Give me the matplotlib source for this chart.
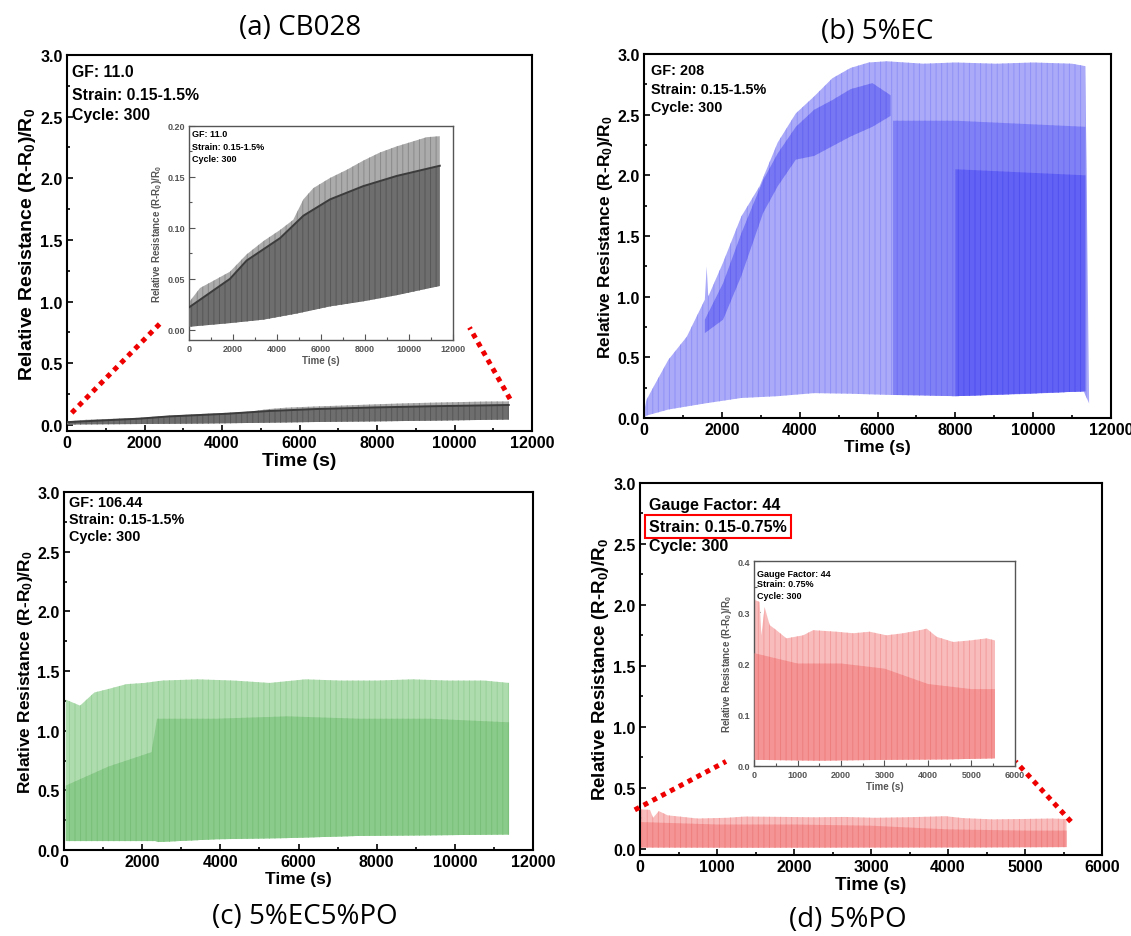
import matplotlib
matplotlib.use('Agg')
import matplotlib.pyplot as plt
from matplotlib.ticker import MultipleLocator, FormatStrFormatter

plt.rcParams['font.family'] = ['Liberation Sans', 'DejaVu Sans']
plt.rcParams['font.weight'] = 'bold'
plt.rcParams['mathtext.default'] = 'regular'
plt.rcParams['hatch.linewidth'] = 0.7

W, H = 1131, 937

# (a) CB028 -- same run in main panel and inset
cb_t = [0, 500, 1100, 1860, 2620, 3380, 4140, 4740, 5200, 5650, 6410, 7170, 7920, 8680, 9440, 10200, 10800, 11400]
cb_peak = [0.027, 0.041, 0.048, 0.057, 0.074, 0.087, 0.098, 0.108, 0.128, 0.139, 0.149, 0.157, 0.166, 0.174, 0.180, 0.185, 0.189, 0.190]
cb_dark_t = [0, 1860, 2620, 4140, 5200, 6410, 7920, 9440, 11400]
cb_dark = [0.022, 0.050, 0.068, 0.090, 0.112, 0.128, 0.141, 0.151, 0.161]
cb_lo_t = [0, 1860, 3380, 4900, 6410, 7920, 9440, 10950, 11400]
cb_lo = [0.003, 0.0066, 0.010, 0.016, 0.023, 0.028, 0.034, 0.041, 0.043]

# (b) 5%EC
ec_t = [0, 65, 250, 627, 1100, 1563, 1610, 1650, 2030, 2499, 2970, 3435, 3900, 4371, 4840, 5307, 5775, 6240, 7180, 8000, 9050, 10000, 11000, 11340]
ec_peak = [0.05, 0.15, 0.26, 0.48, 0.67, 0.975, 1.25, 1.0, 1.28, 1.66, 1.91, 2.27, 2.51, 2.65, 2.80, 2.885, 2.93, 2.94, 2.92, 2.93, 2.92, 2.93, 2.92, 2.90]
ec_lo_t = [0, 65, 627, 1563, 2499, 3435, 4371, 5307, 6337, 7179, 7975, 9051, 9987, 11298, 11438]
ec_lo = [0.0, 0.02, 0.07, 0.12, 0.165, 0.18, 0.205, 0.20, 0.19, 0.19, 0.18, 0.19, 0.20, 0.22, 0.12]
ec_strip_t = [1563, 2031, 2499, 3061, 3435, 3903, 4371, 4839, 5307, 5869, 6337]
ec_strip_hi = [0.81, 1.11, 1.52, 1.96, 2.18, 2.40, 2.54, 2.62, 2.71, 2.76, 2.66]
ec_strip_lo = [0.70, 0.81, 1.17, 1.69, 1.91, 2.13, 2.16, 2.24, 2.32, 2.40, 2.49]
ec_late_t = [6400, 8000, 11340]
ec_late_hi = [2.45, 2.45, 2.40]
ec_late_lo = [0.19, 0.18, 0.22]
ec_dense_t = [8000, 11340]
ec_dense_hi = [2.05, 2.00]
ec_dense_lo = [0.18, 0.22]

# (c) 5%EC5%PO
ecpo_t = [46, 412, 777, 1143, 1600, 2058, 2515, 3430, 4344, 5259, 6174, 7088, 8003, 8917, 9832, 10747, 11387]
ecpo_peak = [1.26, 1.21, 1.32, 1.35, 1.39, 1.40, 1.42, 1.43, 1.42, 1.40, 1.43, 1.42, 1.42, 1.43, 1.42, 1.42, 1.40]
ecpo_lo_t = [46, 2332, 2424, 3887, 5716, 7545, 9375, 11387]
ecpo_lo = [0.075, 0.075, 0.067, 0.09, 0.10, 0.118, 0.123, 0.13]
ecpo_dark_t = [46, 1143, 2240, 2380, 3887, 5716, 7545, 9375, 11387]
ecpo_dark = [0.54, 0.70, 0.82, 1.10, 1.10, 1.12, 1.10, 1.10, 1.07]

# (d) 5%PO -- same run in main panel and inset
po_t = [15, 130, 170, 245, 360, 515, 745, 1130, 1360, 1895, 2280, 2660, 3045, 3430, 3815, 3970, 4200, 4580, 4965, 5350, 5540]
po_peak = [0.324, 0.320, 0.255, 0.31, 0.275, 0.265, 0.249, 0.255, 0.265, 0.262, 0.259, 0.262, 0.255, 0.259, 0.265, 0.268, 0.252, 0.242, 0.245, 0.249, 0.245]
po_lo_t = [15, 1500, 3000, 4500, 5540]
po_lo = [0.012, 0.0105, 0.012, 0.013, 0.015]
po_dark_t = [15, 1000, 2000, 3000, 4000, 5000, 5540]
po_dark = [0.22, 0.20, 0.20, 0.19, 0.16, 0.15, 0.15]

ylabel = 'Relative Resistance (R-R$_0$)/R$_0$'

fig = plt.figure(figsize=(W / 100, H / 100), dpi=100)


def axes_px(left, top, right, bottom):
    return fig.add_axes([left / W, 1 - bottom / H, (right - left) / W, (bottom - top) / H])


def band(ax, t_hi, hi, t_lo, lo, face, stripe, z=2, hatch='|||'):
    # closed outline: peaks left->right, troughs back right->left
    xs = list(t_hi) + list(t_lo)[::-1]
    ys = list(hi) + list(lo)[::-1]
    ax.fill(xs, ys, facecolor=face, edgecolor=stripe, hatch=hatch, linewidth=0, zorder=z)


def style(ax, xmax, xmaj, ymin, ymax, ymaj, fs, lw=1.5, color='black', lab=12.5):
    ax.set_xlim(0, xmax)
    ax.set_ylim(ymin, ymax)
    ax.xaxis.set_major_locator(MultipleLocator(xmaj))
    ax.xaxis.set_minor_locator(MultipleLocator(xmaj / 2))
    ax.yaxis.set_major_locator(MultipleLocator(ymaj))
    ax.yaxis.set_minor_locator(MultipleLocator(ymaj / 2))
    ax.tick_params(which='both', direction='in', top=False, right=False,
                   labelsize=fs, width=lw * 0.8, colors=color, labelcolor=color)
    ax.tick_params(which='major', length=4, pad=3)
    ax.tick_params(which='minor', length=2.5)
    for s in ax.spines.values():
        s.set_linewidth(lw)
        s.set_color(color)
    ax.set_xlabel('Time (s)', fontsize=lab, fontweight='bold', labelpad=1, color=color)
    ax.set_ylabel(ylabel, fontsize=lab, fontweight='bold', labelpad=2, color=color)
    for lbl in ax.get_xticklabels() + ax.get_yticklabels():
        lbl.set_fontweight('bold')


def notes(ax, lines, x, ys, fs, box=None):
    for i, (s, y) in enumerate(zip(lines, ys)):
        kw = {}
        if box == i:
            kw['bbox'] = dict(boxstyle='square,pad=0.25', fc='none', ec='red', lw=1.5)
        ax.text(x, y, s, transform=ax.transAxes, fontsize=fs, fontweight='bold',
                va='center', ha='left', zorder=6, **kw)


def draw_cb(ax):
    band(ax, cb_t, cb_peak, cb_lo_t, cb_lo, '#ababab', '#8a8a8a')
    band(ax, cb_dark_t, cb_dark, cb_lo_t, cb_lo, '#6e6e6e', '#575757', z=3)
    ax.plot(cb_dark_t, cb_dark, color='#3c3c3c', lw=1.4, zorder=4)


def draw_po(ax):
    band(ax, po_t, po_peak, po_lo_t, po_lo, '#f9bcbc', '#f29c9c')
    band(ax, po_dark_t, po_dark, po_lo_t, po_lo, '#f49494', '#ee7e7e', z=3)


# ---- (a) CB028
ax_a = axes_px(67, 56, 532, 432)
draw_cb(ax_a)
style(ax_a, 12000, 2000, -0.05, 3.0, 0.5, 11.5, lab=14)
notes(ax_a, ['GF: 11.0', 'Strain: 0.15-1.5%', 'Cycle: 300'], 0.011, [0.957, 0.896, 0.843], 11.3)

ins_a = axes_px(189, 127, 453, 341)
draw_cb(ins_a)
style(ins_a, 12000, 2000, -0.01, 0.20, 0.05, 6.5, lw=1.0, color='#555555', lab=7)
ins_a.yaxis.set_major_formatter(FormatStrFormatter('%.2f'))
notes(ins_a, ['GF: 11.0', 'Strain: 0.15-1.5%', 'Cycle: 300'], 0.011, [0.963, 0.902, 0.846], 6.5)

for (p0, p1) in [((121, 0.097), (2477, 0.846)), ((11432, 0.21), (10387, 0.79))]:
    ax_a.plot([p0[0], p1[0]], [p0[1], p1[1]], color='#ee0000', lw=3.6,
              linestyle=(0, (1, 1)), solid_capstyle='butt', clip_on=False, zorder=7)

# ---- (b) 5%EC
ax_b = axes_px(644, 55, 1111, 419)
band(ax_b, ec_t, ec_peak, ec_lo_t, ec_lo, '#aaaaf9', '#9090f6')
band(ax_b, ec_strip_t, ec_strip_hi, ec_strip_t, ec_strip_lo, '#7777f3', '#6464f1', z=3)
band(ax_b, ec_late_t, ec_late_hi, ec_late_t, ec_late_lo, '#8181f6', '#6e6ef4', z=3)
band(ax_b, ec_dense_t, ec_dense_hi, ec_dense_t, ec_dense_lo, '#6262f4', '#5050f0', z=4)
style(ax_b, 12000, 2000, 0, 3.0, 0.5, 11.5)
notes(ax_b, ['GF: 208', 'Strain: 0.15-1.5%', 'Cycle: 300'], 0.015, [0.956, 0.904, 0.854], 10.4)

# ---- (c) 5%EC5%PO
ax_c = axes_px(64, 493, 533, 851)
band(ax_c, ecpo_t, ecpo_peak, ecpo_lo_t, ecpo_lo, '#afdcaf', '#97cf97')
band(ax_c, ecpo_dark_t, ecpo_dark, ecpo_lo_t, ecpo_lo, '#8aca8a', '#78bf78', z=3)
style(ax_c, 12000, 2000, 0, 3.0, 0.5, 11.5)
notes(ax_c, ['GF: 106.44', 'Strain: 0.15-1.5%', 'Cycle: 300'], 0.01, [0.972, 0.925, 0.877], 10.4)

# ---- (d) 5%PO
ax_d = axes_px(640, 484, 1102, 856)
draw_po(ax_d)
style(ax_d, 6000, 1000, -0.05, 3.0, 0.5, 11.5, lab=13.5)
notes(ax_d, ['Gauge Factor: 44', 'Strain: 0.15-0.75%', 'Cycle: 300'], 0.02, [0.941, 0.884, 0.831], 11.5, box=1)

ins_d = axes_px(754, 562, 1015, 767)
draw_po(ins_d)
style(ins_d, 6000, 1000, 0, 0.4, 0.1, 6.5, lw=1.0, color='#555555', lab=7)
notes(ins_d, ['Gauge Factor: 44', 'Strain: 0.75%', 'Cycle: 300'], 0.01, [0.941, 0.888, 0.834], 6.5)

for (p0, p1) in [((-68, 0.32), (1117, 0.717)), ((5597, 0.224), (4877, 0.717))]:
    ax_d.plot([p0[0], p1[0]], [p0[1], p1[1]], color='#ee0000', lw=3.6,
              linestyle=(0, (1, 1)), solid_capstyle='butt', clip_on=False, zorder=7)

# panel captions
for s, x, y in [('(a) CB028', 300, 28), ('(b) 5%EC', 877, 32),
                ('(c) 5%EC5%PO', 305, 917), ('(d) 5%PO', 848, 920)]:
    fig.text(x / W, 1 - y / H, s, fontsize=20, fontweight='normal',
             family=['Open Sans', 'DejaVu Sans'], ha='center', va='center')

fig.savefig('out.png', dpi=100, facecolor='white')
